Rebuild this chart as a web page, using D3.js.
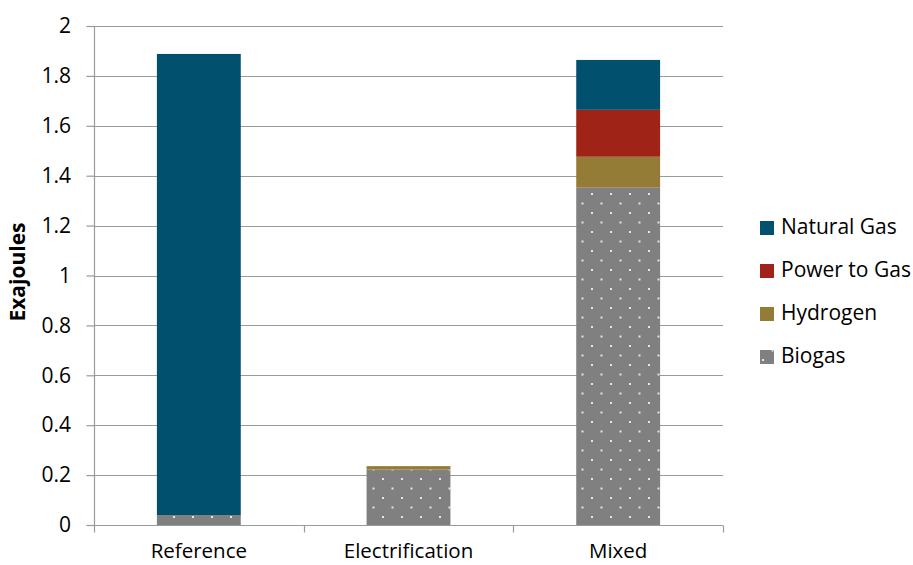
<!DOCTYPE html>
<html><head><meta charset="utf-8">
<script src="https://cdn.jsdelivr.net/npm/d3@7"></script>
<style>body{margin:0;background:#fff;} text{font-family:"Open Sans",sans-serif;}</style>
</head><body>
<svg id="c" width="913" height="565"></svg>
<script>
const categories = ["Reference","Electrification","Mixed"];
const seriesNames = ["Biogas","Hydrogen","Power to Gas","Natural Gas"];
const biogas = [0.04, 0.222, 1.352];
const hydrogen = [0, 0.014, 0.124];
const powerToGas = [0, 0, 0.188];
const naturalGas = [1.848, 0, 0.200];
const yTicks = [0,0.2,0.4,0.6,0.8,1,1.2,1.4,1.6,1.8,2];
const colors = {"Natural Gas":"#00506E","Power to Gas":"#A02318","Hydrogen":"#947B36","Biogas":"url(#dots)"};

const svg = d3.select("#c");
const x = d3.scaleBand().domain(categories).range([94,723]).padding(0);
const y = d3.scaleLinear().domain([0,2]).range([525,26]);
const FS = 21;

const defs = svg.append("defs");
const pat = defs.append("pattern").attr("id","dots").attr("patternUnits","userSpaceOnUse")
  .attr("width",19).attr("height",19).attr("x",1).attr("y",0);
pat.append("rect").attr("width",19).attr("height",19).attr("fill","#808080");
pat.append("rect").attr("x",1).attr("y",3).attr("width",2).attr("height",2).attr("fill","#e6e6e6");
pat.append("rect").attr("x",10.5).attr("y",12.5).attr("width",2).attr("height",2).attr("fill","#e6e6e6");

// gridlines
svg.append("g").selectAll("line").data(yTicks.slice(1)).join("line")
  .attr("x1",94).attr("x2",723).attr("y1",d=>Math.round(y(d))+0.5).attr("y2",d=>Math.round(y(d))+0.5)
  .attr("stroke","#9a9a9a").attr("stroke-width",1.2);

const data = categories.map((c,i)=>({cat:c,"Biogas":biogas[i],"Hydrogen":hydrogen[i],"Power to Gas":powerToGas[i],"Natural Gas":naturalGas[i]}));
const stack = d3.stack().keys(seriesNames)(data);
const bw = x.bandwidth()*0.4;
svg.append("g").selectAll("g").data(stack).join("g")
  .attr("fill",d=>colors[d.key])
  .selectAll("rect").data(d=>d).join("rect")
  .attr("x",d=>x(d.data.cat)+(x.bandwidth()-bw)/2)
  .attr("width",bw)
  .attr("y",d=>y(d[1]))
  .attr("height",d=>Math.max(0,y(d[0])-y(d[1])));

// y axis
const ya = svg.append("g").attr("transform","translate(94.5,0)")
  .call(d3.axisLeft(y).tickValues(yTicks).tickSize(8).tickPadding(15.5).tickFormat(d=>d3.format("")(d)));
ya.select(".domain").attr("stroke","#9a9a9a").attr("stroke-width",1.2).attr("d","M0,"+y(2)+"V"+y(0));
ya.selectAll(".tick line").attr("stroke","#9a9a9a").attr("stroke-width",1.2);
ya.selectAll("text").attr("font-size",FS).attr("fill","#000").style("font-family","'Open Sans',sans-serif");

// x axis
const xa = svg.append("g").attr("transform","translate(0,525.5)");
xa.append("line").attr("x1",94).attr("x2",723).attr("stroke","#9a9a9a").attr("stroke-width",1.2);
const bounds = [94, ...categories.map(c=>x(c)+x.bandwidth())];
xa.selectAll(".t").data(bounds).join("line").attr("class","t")
  .attr("x1",d=>Math.round(d)+0.5).attr("x2",d=>Math.round(d)+0.5).attr("y1",0).attr("y2",7)
  .attr("stroke","#9a9a9a").attr("stroke-width",1.2);
xa.selectAll("text").data(categories).join("text")
  .attr("x",d=>x(d)+x.bandwidth()/2).attr("y",32.5).attr("text-anchor","middle")
  .attr("font-size",20.5).attr("fill","#000").text(d=>d);

// y title
svg.append("text").attr("transform","translate(25,272) rotate(-90)").attr("text-anchor","middle")
  .attr("font-size",FS).attr("font-weight","bold").text("Exajoules");

// legend
const legendItems = ["Natural Gas","Power to Gas","Hydrogen","Biogas"];
const lg = svg.append("g").selectAll("g").data(legendItems).join("g")
  .attr("transform",(d,i)=>`translate(760,${227+i*43})`);
lg.append("rect").attr("x",0).attr("y",-6).attr("width",14).attr("height",14).attr("fill",d=>colors[d]);
lg.append("text").attr("x",21).attr("y",0).attr("dy","0.35em").attr("font-size",FS).text(d=>d);
</script>
</body></html>
